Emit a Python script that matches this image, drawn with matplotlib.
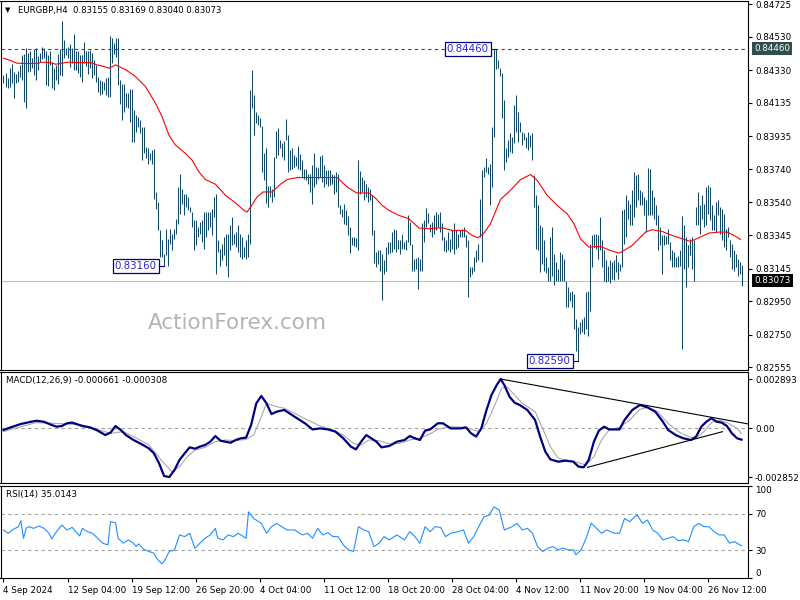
import numpy as np
import matplotlib
matplotlib.use("Agg")
import matplotlib.pyplot as plt
from matplotlib.transforms import blended_transform_factory

# ---------------- DATA (prices in points, 1e-5) ----------------
highs_pts = [
    84303, 84313, 84283, 84343, 84367, 84323, 84307, 84327, 84363, 84423,
    84427, 84463, 84433, 84447, 84407, 84459, 84463, 84419, 84433, 84471,
    84463, 84443, 84423, 84443, 84383, 84343, 84363, 84427, 84459, 84627,
    84513, 84463, 84467, 84487, 84463, 84547, 84443, 84447, 84423, 84423,
    84499, 84443, 84443, 84453, 84433, 84393, 84363, 84293, 84273, 84267,
    84263, 84283, 84293, 84533, 84523, 84493, 84523, 84523, 84273, 84247,
    84247,
    84197, 84197, 84217, 84217, 84093, 84063, 84053, 84033, 83993,
    83993, 83873, 83863, 83833, 83853, 83857, 83603, 83543, 83373, 83313,
    83233, 83383, 83323, 83383, 83353, 83383, 83443, 83633, 83713, 83623,
    83593, 83593, 83573, 83513, 83483, 83433, 83433, 83393, 83423, 83433,
    83483, 83483, 83483, 83483, 83503, 83573, 83593, 83313, 83263, 83293,
    83333, 83353, 83353, 83403, 83453, 83353, 83363, 83403, 83353, 83333,
    83273, 83313, 83353, 84213,
    84333, 84183, 84083, 84063, 84043, 83997,
    83833, 83863, 83637, 83637, 83623, 83809, 83969, 83983, 83913, 83893,
    83909, 84037, 83943, 83853, 83863, 83823, 83813, 83877, 83829, 83793,
    83743, 83743, 83713, 83713, 83763, 83837, 83753, 83749, 83817, 83823,
    83763, 83737, 83733, 83733, 83713, 83703, 83723, 83713, 83523, 83503,
    83529, 83493, 83457, 83393, 83333, 83333, 83329, 83793, 83729, 83693,
    83673, 83649, 83633, 83623, 83583, 83373,
    83243, 83257, 83253, 83233,
    83193, 83273, 83303, 83303, 83363, 83383, 83373, 83313, 83313, 83353,
    83303, 83313, 83463, 83423, 83293, 83203, 83209, 83213, 83203, 83417,
    83433, 83509, 83477, 83413, 83423, 83463, 83483, 83473, 83483, 83417,
    83333, 83313, 83363, 83323, 83373, 83417, 83373, 83353, 83373, 83383,
    83393, 83343, 83313, 83153, 83153, 83213, 83253, 83293, 83563, 83733,
    83753, 83803, 83753, 83773, 83989, 84455, 84460, 84393, 84343,
    84313, 84153, 83863, 83913, 83953, 83933, 84123, 84183, 84083, 84023, 83963,
    83953, 83933, 83963, 83943, 83953, 83703, 83583, 83523, 83403, 83393,
    83313, 83213, 83153, 83333, 83393, 83233, 83183, 83143, 83243, 83233,
    83203, 83073, 83033, 83003, 83013, 82993, 82843, 82793, 82823, 82843,
    82853, 83003, 83013, 83293, 83343, 83353, 83353, 83343, 83453, 83313,
    83253, 83193, 83163, 83193, 83183, 83193, 83223, 83183, 83173, 83493, 83503,
    83583, 83553, 83533, 83613, 83723, 83703, 83713, 83613, 83603, 83573,
    83553, 83749, 83743, 83613, 83573, 83523, 83463, 83393, 83343, 83343,
    83337, 83383, 83303, 83253, 83243, 83213, 83217, 83253, 83457, 83403,
    83333, 83283, 83323, 83333, 83313, 83513, 83603, 83523, 83583, 83533,
    83633, 83643, 83633, 83523, 83463, 83543, 83553, 83513, 83503, 83473,
    83383, 83393, 83313, 83293, 83253, 83233, 83203, 83183, 83169,
]
lows_pts = [
    84253, 84233, 84227, 84233, 84253, 84167, 84253, 84263, 84293, 84273,
    84139, 84103, 84319, 84327, 84343, 84303, 84273, 84333, 84383, 84399,
    84407, 84243, 84239, 84363, 84227, 84213, 84273, 84247, 84303, 84299,
    84403, 84423, 84403, 84353, 84373, 84333, 84333, 84313, 84293, 84259,
    84373, 84359, 84307, 84343, 84283, 84303, 84259, 84199, 84183, 84189,
    84213, 84183, 84173, 84173, 84373, 84427, 84413, 84243, 84127, 84033,
    84083,
    84113, 84103, 84023, 83903, 83903, 83963, 83993, 83953, 83793,
    83833, 83803, 83773, 83793, 83773, 83563, 83503, 83373, 83213, 83213,
    83163, 83223, 83163, 83293, 83253, 83323, 83353, 83413, 83473, 83533,
    83463, 83513, 83493, 83483, 83393, 83253, 83283, 83333, 83353, 83303,
    83263, 83333, 83373, 83393, 83343, 83453, 83113, 83243, 83163, 83193,
    83223, 83163, 83097, 83253, 83283, 83293, 83273, 83243, 83213, 83203,
    83213, 83203, 83213, 83293,
    84103, 83943, 84013, 84003, 83993, 83723,
    83673, 83537, 83513, 83573, 83543, 83573, 83803, 83823, 83863, 83813,
    83797, 83913, 83723, 83733, 83743, 83753, 83757, 83743, 83733, 83693,
    83683, 83673, 83653, 83603, 83533, 83633, 83653, 83683, 83693, 83663,
    83633, 83653, 83637, 83643, 83653, 83593, 83603, 83513, 83473, 83453,
    83413, 83403, 83343, 83237, 83283, 83277, 83273, 83253, 83593, 83603,
    83553, 83573, 83543, 83557, 83343, 83177,
    83153, 83173, 83133, 82957,
    83113, 83133, 83233, 83237, 83243, 83263, 83243, 83263, 83233, 83263,
    83263, 83253, 83303, 83283, 83133, 83133, 83143, 83023, 83133, 83133,
    83303, 83393, 83417, 83363, 83333, 83353, 83373, 83393, 83363, 83313,
    83249, 83243, 83253, 83243, 83263, 83233, 83263, 83273, 83333, 83333,
    83333, 83273, 82973, 83093, 83113, 83133, 83183, 83193, 83333, 83183,
    83693, 83723, 83713, 83523, 83633, 83933, 84337, 84343, 84297,
    84043, 83733, 83783, 83813, 83843, 83837, 83893, 83963, 83903, 83963, 83883,
    83913, 83863, 83853, 83873, 83793, 83513, 83263, 83253, 83123, 83173,
    83133, 83117, 83073, 83073, 83103, 83049, 83073, 83073, 83073, 83073,
    83073, 82913, 82913, 82953, 82913, 82783, 82653, 82590, 82753, 82763,
    82753, 82783, 82743, 82893, 83153, 83273, 83263, 83203, 83253, 83153,
    83073, 83063, 83073, 83057, 83083, 83077, 83123, 83083, 83133, 83153, 83293,
    83333, 83443, 83403, 83403, 83453, 83513, 83553, 83523, 83523, 83463,
    83363, 83463, 83463, 83463, 83443, 83403, 83253, 83283, 83113, 83283,
    83293, 83293, 83193, 83153, 83153, 83153, 83157, 83163, 82663, 83143,
    83033, 83153, 83223, 83143, 83073, 83403, 83403, 83353, 83443, 83393,
    83403, 83473, 83433, 83373, 83373, 83363, 83463, 83353, 83313, 83273,
    83253, 83333, 83213, 83143, 83133, 83153, 83103, 83113, 83040,
]

# moving average (bar index, value in points)
ma_idx = [0, 3.5, 6.8, 11.8, 17.7, 18.5, 23.5, 26, 28.5, 31.8,
          38.5, 43.5, 46.8, 50.2, 52.7, 56, 58.5, 61, 66, 71,
          76, 79.3, 82.7, 86, 91, 94.3, 97.7, 101, 106, 111,
          116, 120.2, 121.8, 123.5, 126.8, 129.8, 134.3, 138.5, 141.8, 146.8,
          156.8, 166.8, 171.8, 176.5, 182.7, 186, 189.3, 192.7, 197.7, 202.7,
          207.7, 212.7, 219.3, 224.3, 231, 234.3, 237.3, 240.2, 243.5, 248.5,
          253.5, 258.5, 263.5, 266.8, 271.8, 276.8, 281.8, 285.2, 288.5, 292.7,
          298.5, 303.5, 307.7, 311, 314.3, 317.7, 321, 324.3, 329.3, 334.3,
          339.3, 343.5, 347.7, 352.7, 357.7, 361.8, 365.2, 368.5]
ma_pts = [84403, 84389, 84373, 84371, 84373, 84379, 84377, 84367, 84371, 84379,
          84377, 84377, 84363, 84353, 84343, 84363, 84349, 84335, 84293, 84233,
          84133, 84053, 83943, 83883, 83833, 83793, 83723, 83677, 83649, 83583,
          83537, 83493, 83483, 83513, 83573, 83603, 83603, 83649, 83677, 83689,
          83689, 83689, 83633, 83597, 83597, 83566, 83523, 83493, 83463, 83443,
          83387, 83383, 83389, 83373, 83373, 83343, 83329, 83357, 83413, 83558,
          83613, 83677, 83707, 83673, 83583, 83523, 83473, 83413, 83323, 83273,
          83277, 83253, 83237, 83258, 83283, 83323, 83363, 83377, 83367, 83343,
          83323, 83307, 83329, 83357, 83363, 83363, 83343, 83319]

# MACD main line (1e-5 units)
macd_idx = [0, 3.6, 8.7, 13.8, 16.4, 20.2, 24.1, 26.6, 29.2, 31.7,
            34.3, 36.9, 39.4, 43.3, 47.1, 50.9, 53.5, 56.0, 58.6, 61.2,
            65.0, 68.8, 72.7, 75.2, 77.8, 80.3, 82.9, 85.5, 88.0, 90.6,
            93.1, 95.7, 98.2, 100.8, 103.4, 105.9, 108.5, 111.0, 113.6, 116.1,
            118.7, 121.3, 123.8, 126.4, 128.9, 131.5, 134.0, 136.6, 140.4, 143.0,
            146.8, 150.7, 154.5, 158.3, 162.2, 166.0, 169.9, 173.7, 176.2, 178.8,
            181.4, 183.9, 186.5, 189.0, 192.9, 196.7, 200.5, 203.1, 205.7, 208.2,
            210.8, 213.3, 217.2, 219.7, 223.6, 228.7, 231.2, 233.8, 236.3, 238.9,
            241.5, 244.0, 246.6, 248.6, 250.4, 253.0, 255.5, 258.1, 261.9, 265.8,
            268.3, 270.9, 273.4, 277.3, 281.1, 284.9, 287.5, 290.1, 292.6, 295.2,
            297.7, 300.3, 302.8, 308.0, 310.5, 314.4, 318.2, 322.0, 325.9, 329.7,
            332.3, 336.1, 339.9, 343.8, 346.3, 348.9, 351.4, 354.0, 356.6, 359.1,
            361.7, 364.2, 366.8, 369.0]
macd_val = [-9, 6, 26, 39, 45, 39, 20, 10, 14, 30,
            34, 24, 14, 6, -13, -39, -25, 14, -9, -39,
            -68, -91, -117, -146, -205, -279, -285, -244, -185, -146,
            -111, -119, -107, -97, -78, -45, -72, -78, -84, -68,
            -58, -54, 20, 147, 190, 147, 84, 98, 108, 88,
            59, 30, -6, 0, -6, -19, -58, -107, -123, -78,
            -39, -58, -78, -111, -103, -78, -68, -45, -58, -68,
            -13, -6, 30, 30, 0, 0, 6, -29, -48, 0,
            108, 196, 254, 289, 254, 186, 151, 137, 108, 49,
            -48, -136, -181, -195, -189, -195, -224, -228, -185, -78,
            -13, 10, -6, -6, 49, 108, 137, 123, 98, 39,
            -9, -39, -58, -68, -48, 10, 39, 59, 39, 34,
            14, -29, -58, -66]
sig_idx = [0, 8.7, 16.4, 24.1, 31.7, 39.4, 47.1, 53.5, 59.9, 65.0,
           72.7, 80.3, 84.2, 88.0, 91.9, 95.7, 100.8, 105.9, 111.0, 116.1,
           121.3, 125.1, 128.9, 131.5, 135.3, 140.4, 145.6, 152.0, 158.3, 164.7,
           169.9, 175.0, 178.8, 182.6, 187.8, 192.9, 198.0, 203.1, 208.2, 212.1,
           217.2, 223.6, 231.2, 237.6, 241.5, 245.3, 249.1, 251.7, 255.5, 259.4,
           265.8, 269.6, 273.4, 277.3, 282.4, 287.5, 291.3, 295.2, 299.0, 302.8,
           308.0, 313.1, 318.2, 322.0, 327.1, 332.3, 337.4, 342.5, 346.3, 350.2,
           354.0, 357.8, 361.7, 366.8, 369.0]
sig_val = [-19, 10, 34, 30, 26, 20, -6, -29, -19, -48,
           -97, -205, -254, -224, -166, -127, -111, -78, -68, -72,
           -64, -39, 69, 147, 131, 118, 88, 49, 14, -9,
           -39, -88, -97, -68, -72, -91, -88, -68, -58, -39,
           -6, 10, 6, -19, 30, 127, 235, 245, 196, 147,
           98, 0, -107, -175, -189, -201, -215, -166, -68, -9,
           6, 49, 112, 123, 98, 30, -19, -48, -58, -19,
           34, 49, 34, 0, -31]
# hand-drawn trend lines on MACD (bar index, value 1e-5)
tl1_idx, tl1_val = [248.6, 372.5], [289.3, 25.8]
tl2_idx, tl2_val = [292.0, 359.5], [-228.0, -19.3]

rsi_idx = [0, 2.3, 4.9, 7.5, 8.7, 10.0, 11.3, 12.6, 15.1, 17.7,
           20.2, 22.8, 24.1, 26.6, 29.2, 31.7, 34.3, 36.9, 38.1, 39.4,
           42.0, 44.5, 47.1, 49.6, 52.2, 53.5, 56.0, 57.3, 59.9, 62.4,
           65.0, 66.3, 67.6, 70.1, 72.7, 75.2, 76.5, 79.1, 80.3, 82.9,
           85.5, 88.0, 90.6, 93.1, 95.7, 98.2, 100.8, 103.4, 105.9, 107.2,
           109.8, 112.3, 114.9, 117.4, 121.3, 122.5, 125.1, 128.9, 131.5, 134.0,
           136.6, 139.2, 141.7, 145.6, 149.4, 152.0, 154.5, 157.1, 159.6, 162.2,
           164.7, 167.3, 169.9, 172.4, 175.0, 177.5, 180.1, 182.6, 185.2, 187.8,
           190.3, 192.9, 196.7, 200.5, 203.1, 205.7, 208.2, 210.8, 213.3, 215.9,
           218.5, 221.0, 223.6, 227.4, 230.0, 232.5, 235.1, 237.6, 240.2, 242.7,
           245.3, 247.9, 250.4, 254.3, 256.8, 259.4, 261.9, 264.5, 267.0, 269.6,
           272.2, 274.7, 277.3, 279.8, 282.4, 285.0, 286.2, 288.8, 291.3, 293.9,
           296.5, 299.0, 301.6, 305.4, 308.0, 310.5, 313.1, 315.6, 316.9, 319.5,
           322.0, 324.6, 327.1, 329.7, 332.3, 334.8, 337.4, 339.9, 342.5, 345.1,
           347.6, 350.2, 352.7, 355.3, 357.8, 360.4, 363.0, 365.5, 368.1, 369.0]
rsi_val = [52.2, 48.6, 52.9, 55.8, 62.2, 43.2, 54.0, 55.8, 54.0, 56.5,
           54.0, 48.6, 42.4, 50.7, 57.6, 52.2, 55.0, 48.6, 45.7, 54.0,
           50.4, 48.6, 43.2, 37.8, 36.0, 61.2, 60.1, 43.2, 37.8, 41.4,
           37.8, 34.2, 37.1, 31.3, 28.8, 27.0, 21.6, 15.5, 18.0, 28.8,
           30.6, 46.8, 45.0, 48.6, 32.4, 37.8, 43.2, 46.8, 54.0, 43.2,
           41.4, 46.8, 45.0, 48.6, 43.2, 71.9, 64.7, 59.4, 48.6, 55.8,
           59.4, 55.8, 52.2, 52.2, 46.8, 48.6, 43.2, 54.0, 46.8, 49.3,
           45.0, 45.0, 36.0, 30.6, 28.8, 55.8, 52.2, 50.4, 34.2, 37.8,
           45.0, 41.4, 46.8, 41.4, 50.4, 45.0, 37.8, 55.8, 50.4, 55.8,
           55.0, 45.0, 48.6, 50.4, 52.2, 37.8, 45.0, 55.8, 66.5, 68.3,
           77.3, 73.7, 52.2, 55.8, 59.4, 52.2, 54.0, 48.6, 34.2, 28.8,
           32.4, 34.2, 30.6, 32.4, 30.6, 30.6, 25.2, 30.6, 43.2, 59.7,
           54.0, 48.6, 52.2, 48.6, 48.6, 64.7, 61.2, 66.5, 68.3, 59.4,
           63.0, 52.2, 48.6, 41.4, 43.2, 45.0, 40.6, 41.4, 39.6, 55.8,
           59.4, 55.8, 55.8, 50.4, 46.8, 46.8, 37.8, 39.6, 36.0, 35.0]

date_labels = ["4 Sep 2024", "12 Sep 04:00", "19 Sep 12:00", "26 Sep 20:00",
               "4 Oct 04:00", "11 Oct 12:00", "18 Oct 20:00", "28 Oct 04:00",
               "4 Nov 12:00", "11 Nov 20:00", "19 Nov 04:00", "26 Nov 12:00"]
bars_per_label = 32
price_ticks = [0.84725, 0.84530, 0.84330, 0.84135, 0.83935, 0.83740,
               0.83540, 0.83345, 0.83145, 0.82950, 0.82750, 0.82555]
resistance = 0.84460
last_price = 0.83073
marks = [(246, 0.84460), (80, 0.83160), (287, 0.82590)]
macd_ticks = [0.002893, 0.0, -0.002852]
macd_ticklabels = ["0.002893", "0.00", "-0.002852"]
rsi_ticks = [100, 70, 30, 0]

assert len(highs_pts) == 370 and len(lows_pts) == 370
assert len(ma_idx) == len(ma_pts)
assert len(macd_idx) == len(macd_val) and len(sig_idx) == len(sig_val)
assert len(rsi_idx) == len(rsi_val)

# ---------------- FIGURE ----------------
W, H = 800, 600
fig = plt.figure(figsize=(8, 6), dpi=100)
fig.patch.set_facecolor("white")
FS = 6.3
BAR_C = "#114a66"


def px_axes(left, top, right, bottom):
    return fig.add_axes([left / W, 1 - bottom / H, (right - left) / W, (bottom - top) / H])


ax = px_axes(0.5, 0.5, 748, 370)
ax_m = px_axes(0.5, 372, 748, 483)
ax_r = px_axes(0.5, 486, 748, 578)

XL = (-1.5, (748 - 3.5) / 2)
n = len(highs_pts)
idx = np.arange(n)
hi = np.array(highs_pts) / 1e5
lo = np.array(lows_pts) / 1e5

for a in (ax, ax_m, ax_r):
    a.set_xlim(*XL)
    a.set_facecolor("white")
    for s in a.spines.values():
        s.set_color("black")
        s.set_linewidth(0.8)
    a.yaxis.tick_right()
    a.tick_params(axis="y", direction="out", length=3, width=0.8, pad=2,
                  labelsize=FS, colors="black")
    a.tick_params(axis="x", bottom=False, labelbottom=False)

# ---- main price panel ----
ax.set_ylim(0.82538, 0.84748)
ax.axhline(resistance, color="#2f4f4f", lw=0.8, ls=(0, (3, 3)), zorder=1)
ax.axhline(last_price, color="#c0c0c0", lw=0.8, zorder=1)
ax.vlines(idx, lo, hi, color=BAR_C, lw=0.75, zorder=2)
ax.plot(ma_idx, np.array(ma_pts) / 1e5, color="#ff0000", lw=0.8, zorder=3)
ax.set_yticks(price_ticks)
ax.set_yticklabels([f"{v:.5f}" for v in price_ticks])

bt = blended_transform_factory(ax.transAxes, ax.transData)
ax.text(1.008, resistance, f"{resistance:.5f}", transform=bt, fontsize=FS, color="white",
        va="center", ha="left", bbox=dict(fc="#2f4f4f", ec="none", pad=1.6), zorder=5)
ax.text(1.008, last_price, f"{last_price:.5f}", transform=bt, fontsize=FS, color="white",
        va="center", ha="left", bbox=dict(fc="black", ec="none", pad=1.6), zorder=5)

for bi, pv in marks:
    ax.plot([bi - 2.6, bi], [pv, pv], color="#000080", lw=0.8, zorder=4)
    ax.text(bi - 3.4, pv, f"{pv:.5f}", ha="right", va="center", fontsize=7.4,
            color="#2a2ad0", zorder=5,
            bbox=dict(fc="white", ec="#000080", lw=0.9, pad=1.3))

ax.text(117, 0.82819, "ActionForex.com", fontsize=15.5, color="#b4b4b4",
        ha="center", va="center", zorder=0)
fig.text(5 / W, 1 - 10.5 / H, "\u25BC", fontsize=5, va="center", ha="left")
fig.text(18 / W, 1 - 10 / H, "EURGBP,H4  0.83155 0.83169 0.83040 0.83073",
         fontsize=6.1, va="center", ha="left")

# ---- MACD panel ----
ax_m.set_ylim(-0.00320, 0.003305)
ax_m.axhline(0, color="#a0a0a0", lw=0.8, ls=(0, (3, 3)))
ax_m.plot(sig_idx, np.array(sig_val) / 1e5, color="#a9a9a9", lw=0.8)
ax_m.plot(macd_idx, np.array(macd_val) / 1e5, color="#000080", lw=1.6)
ax_m.plot(tl1_idx, np.array(tl1_val) / 1e5, color="black", lw=0.8)
ax_m.plot(tl2_idx, np.array(tl2_val) / 1e5, color="black", lw=0.8)
ax_m.set_yticks(macd_ticks)
ax_m.set_yticklabels(macd_ticklabels)
ax_m.text(6 / 747.5, 1 - 9 / 111, "MACD(12,26,9) -0.000661 -0.000308", transform=ax_m.transAxes,
          fontsize=FS, va="center", ha="left")

# ---- RSI panel ----
ax_r.set_ylim(0, 100)
for lv in (70, 30):
    ax_r.axhline(lv, color="#a0a0a0", lw=0.8, ls=(0, (3, 3)))
ax_r.plot(rsi_idx, rsi_val, color="#1e90ff", lw=0.8)
ax_r.set_yticks(rsi_ticks)
ax_r.set_yticklabels([str(v) for v in rsi_ticks])
lbls = ax_r.get_yticklabels()
lbls[0].set_va("top")
lbls[-1].set_va("bottom")
ax_r.text(6 / 747.5, 1 - 8 / 92, "RSI(14) 35.0143", transform=ax_r.transAxes,
          fontsize=FS, va="center", ha="left")

xt = [k * bars_per_label for k in range(len(date_labels))]
ax_r.set_xticks(xt)
ax_r.set_xticklabels(date_labels)
ax_r.tick_params(axis="x", bottom=True, labelbottom=True, direction="out", length=3,
                 width=0.8, pad=3, labelsize=FS)
for t in ax_r.get_xticklabels():
    t.set_ha("left")

fig.savefig("out.png", dpi=100, facecolor="white")
